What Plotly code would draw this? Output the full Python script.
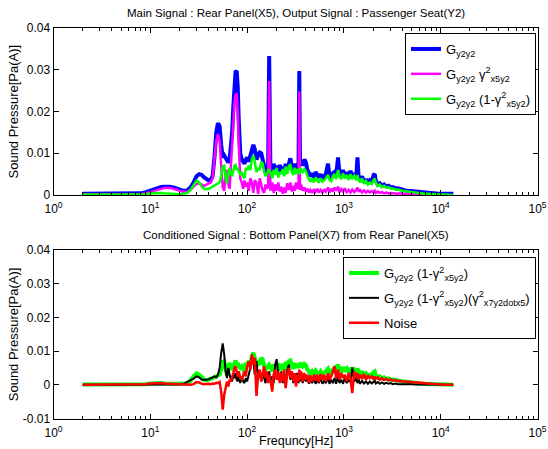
import plotly.graph_objects as go

# ---------------- data ----------------
freq = [
    2, 3, 4, 5, 6, 7, 8, 9, 10, 11,
    12, 13, 14, 16, 18, 20, 22, 24, 26, 28,
    30, 32, 34, 36, 38, 40, 42, 44, 46, 48,
    50, 52, 54, 56, 58, 60, 62, 64, 66, 68,
    70, 72, 74, 76, 78, 80, 82, 85, 88, 91,
    94, 97, 100, 104, 108, 112, 116, 120, 125, 130,
    135, 140, 145, 150, 155, 160, 165, 169, 174, 182,
    188, 195, 202, 210, 218, 226, 234, 242, 250, 260,
    270, 280, 290, 300, 310, 320, 330, 340, 346, 352,
    362, 375, 390, 405, 420, 435, 450, 470, 490, 510,
    530, 550, 575, 600, 625, 650, 685, 710, 740, 770,
    800, 830, 870, 900, 940, 980, 1020, 1070, 1120, 1170,
    1220, 1280, 1340, 1380, 1420, 1470, 1540, 1610, 1690, 1770,
    1850, 1940, 2030, 2080, 2130, 2240, 2350, 2470, 2600, 2750,
    2900, 3050, 3200, 3400, 3600, 3800, 4000, 4300, 4600, 5000,
    5400, 5800, 6300, 6800, 7400, 8000, 8700, 9500, 10400, 11400,
    12500, 13500,
]

g_y2y2 = [
    0.0003, 0.0003, 0.0003, 0.0003, 0.0003, 0.0003, 0.0004, 0.0007, 0.0011, 0.0015,
    0.0017, 0.0019, 0.0020, 0.0020, 0.0017, 0.0013, 0.0010, 0.0011, 0.0018, 0.0030,
    0.0045, 0.0050, 0.0048, 0.0042, 0.0037, 0.0035, 0.0036, 0.0045, 0.0090, 0.0150,
    0.0172, 0.0165, 0.0120, 0.0090, 0.0095, 0.0088, 0.0080, 0.0078, 0.0085, 0.0110,
    0.0150, 0.0210, 0.0265, 0.0295, 0.0297, 0.0260, 0.0180, 0.0100, 0.0085, 0.0080,
    0.0075, 0.0085, 0.0090, 0.0080, 0.0095, 0.0115, 0.0120, 0.0110, 0.0085, 0.0095,
    0.0102, 0.0100, 0.0085, 0.0060, 0.0055, 0.0060, 0.0070, 0.0333, 0.0065, 0.0050,
    0.0075, 0.0060, 0.0070, 0.0055, 0.0072, 0.0058, 0.0068, 0.0052, 0.0075, 0.0060,
    0.0080, 0.0088, 0.0065, 0.0058, 0.0075, 0.0062, 0.0070, 0.0068, 0.0297, 0.0075,
    0.0082, 0.0070, 0.0085, 0.0078, 0.0060, 0.0050, 0.0045, 0.0052, 0.0040, 0.0055,
    0.0048, 0.0042, 0.0050, 0.0038, 0.0045, 0.0050, 0.0075, 0.0045, 0.0040, 0.0052,
    0.0055, 0.0045, 0.0090, 0.0050, 0.0042, 0.0060, 0.0045, 0.0055, 0.0040, 0.0058,
    0.0045, 0.0052, 0.0040, 0.0090, 0.0042, 0.0035, 0.0045, 0.0030, 0.0038, 0.0028,
    0.0035, 0.0030, 0.0048, 0.0050, 0.0035, 0.0025, 0.0028, 0.0022, 0.0025, 0.0020,
    0.0022, 0.0018, 0.0019, 0.0016, 0.0016, 0.0014, 0.0013, 0.0011, 0.0010, 0.0009,
    0.0008, 0.0007, 0.0006, 0.0005, 0.0004, 0.0004, 0.0003, 0.0003, 0.0003, 0.0003,
    0.0003, 0.0003,
]

g_coh = [
    0.0001, 0.0001, 0.0001, 0.0001, 0.0001, 0.0001, 0.0002, 0.0004, 0.0007, 0.0011,
    0.0014, 0.0016, 0.0017, 0.0017, 0.0014, 0.0010, 0.0008, 0.0008, 0.0012, 0.0020,
    0.0026, 0.0028, 0.0025, 0.0022, 0.0025, 0.0028, 0.0030, 0.0040, 0.0080, 0.0130,
    0.0146, 0.0130, 0.0070, 0.0020, 0.0010, 0.0050, 0.0060, 0.0025, 0.0015, 0.0060,
    0.0110, 0.0170, 0.0220, 0.0240, 0.0241, 0.0200, 0.0120, 0.0040, 0.0030, 0.0015,
    0.0035, 0.0020, 0.0030, 0.0010, 0.0040, 0.0030, 0.0005, 0.0035, 0.0030, 0.0002,
    0.0040, 0.0020, 0.0010, 0.0005, 0.0025, 0.0015, 0.0020, 0.0273, 0.0010, 0.0030,
    0.0005, 0.0025, 0.0010, 0.0030, 0.0008, 0.0020, 0.0003, 0.0018, 0.0005, 0.0028,
    0.0012, 0.0030, 0.0008, 0.0022, 0.0010, 0.0030, 0.0015, 0.0020, 0.0248, 0.0012,
    0.0025, 0.0010, 0.0018, 0.0008, 0.0015, 0.0006, 0.0012, 0.0005, 0.0014, 0.0008,
    0.0015, 0.0006, 0.0012, 0.0005, 0.0014, 0.0008, 0.0018, 0.0006, 0.0015, 0.0008,
    0.0018, 0.0010, 0.0020, 0.0006, 0.0014, 0.0008, 0.0016, 0.0007, 0.0012, 0.0006,
    0.0013, 0.0007, 0.0012, 0.0018, 0.0008, 0.0012, 0.0006, 0.0011, 0.0006, 0.0010,
    0.0006, 0.0009, 0.0007, 0.0010, 0.0005, 0.0008, 0.0005, 0.0007, 0.0004, 0.0006,
    0.0004, 0.0005, 0.0004, 0.0004, 0.0003, 0.0004, 0.0003, 0.0003, 0.0002, 0.0003,
    0.0002, 0.0002, 0.0002, 0.0002, 0.0001, 0.0001, None, None, None, None,
    None, None,
]

g_incoh = [
    0.0001, 0.0001, 0.0001, 0.0001, 0.0001, 0.0001, 0.0001, 0.0002, 0.0004, 0.0005,
    0.0005, 0.0005, 0.0004, 0.0003, 0.0002, 0.0002, 0.0003, 0.0005, 0.0012, 0.0025,
    0.0034, 0.0030, 0.0020, 0.0015, 0.0014, 0.0015, 0.0018, 0.0020, 0.0022, 0.0025,
    0.0028, 0.0030, 0.0045, 0.0068, 0.0070, 0.0040, 0.0028, 0.0055, 0.0065, 0.0050,
    0.0045, 0.0055, 0.0070, 0.0072, 0.0060, 0.0065, 0.0055, 0.0050, 0.0055, 0.0045,
    0.0040, 0.0065, 0.0060, 0.0070, 0.0060, 0.0085, 0.0095, 0.0080, 0.0055, 0.0065,
    0.0060, 0.0080, 0.0075, 0.0055, 0.0045, 0.0050, 0.0060, 0.0060, 0.0055, 0.0040,
    0.0060, 0.0048, 0.0065, 0.0042, 0.0055, 0.0050, 0.0062, 0.0045, 0.0068, 0.0050,
    0.0070, 0.0072, 0.0055, 0.0048, 0.0065, 0.0050, 0.0062, 0.0055, 0.0050, 0.0065,
    0.0060, 0.0055, 0.0062, 0.0058, 0.0045, 0.0038, 0.0032, 0.0040, 0.0030, 0.0042,
    0.0035, 0.0030, 0.0040, 0.0032, 0.0035, 0.0042, 0.0048, 0.0036, 0.0033, 0.0045,
    0.0050, 0.0038, 0.0060, 0.0045, 0.0038, 0.0052, 0.0040, 0.0048, 0.0036, 0.0050,
    0.0040, 0.0046, 0.0035, 0.0048, 0.0036, 0.0030, 0.0040, 0.0027, 0.0034, 0.0025,
    0.0030, 0.0026, 0.0038, 0.0040, 0.0030, 0.0022, 0.0025, 0.0019, 0.0022, 0.0017,
    0.0019, 0.0015, 0.0016, 0.0013, 0.0013, 0.0011, 0.0010, 0.0009, 0.0008, 0.0007,
    0.0006, 0.0005, 0.0004, 0.0003, 0.0003, 0.0002, 0.0002, 0.0001, 0.0001, 0.0001,
    0.0000, 0.0000,
]

g_cond = [
    0, 0, 0, 0, 0, 0, 0, 0, 0, 0,
    0, 0, 0, 0, 0, 0.0001, 0.0003, 0.0008, 0.0012, 0.0018,
    0.0025, 0.0022, 0.0015, 0.0014, 0.0015, 0.0016, 0.0018, 0.0022, 0.0025, 0.0022,
    0.0030, 0.0050, 0.0095, 0.0123, 0.0090, 0.0040, 0.0020, 0.0050, 0.0030, 0.0015,
    0.0010, 0.0030, 0.0020, 0.0035, 0.0015, 0.0010, 0.0030, 0.0005, 0.0025, 0.0010,
    0.0005, 0.0020, 0.0010, 0.0030, 0.0050, 0.0085, 0.0070, 0.0030, 0.0070, 0.0020,
    0.0040, 0.0010, 0.0035, 0.0020, 0.0005, 0.0030, 0.0015, 0.0040, 0.0010, 0.0025,
    0.0005, 0.0060, 0.0076, 0.0030, 0.0010, 0.0040, 0.0005, 0.0030, 0.0010, 0.0045,
    0.0060, 0.0015, 0.0040, 0.0005, 0.0030, 0.0010, 0.0035, 0.0005, 0.0025, 0.0010,
    0.0030, 0.0005, 0.0025, 0.0010, 0.0020, 0.0003, 0.0015, 0.0005, 0.0020, 0.0003,
    0.0015, 0.0005, 0.0018, 0.0003, 0.0012, 0.0005, 0.0020, 0.0003, 0.0015, 0.0005,
    0.0020, 0.0003, 0.0025, 0.0005, 0.0015, 0.0003, 0.0020, 0.0005, 0.0015, 0.0008,
    0.0052, 0.0010, 0.0020, 0.0005, 0.0015, 0.0003, 0.0012, 0.0004, 0.0010, 0.0003,
    0.0010, 0.0004, 0.0009, 0.0012, 0.0004, 0.0008, 0.0003, 0.0007, 0.0003, 0.0006,
    0.0003, 0.0005, 0.0002, 0.0004, 0.0002, 0.0003, 0.0002, 0.0002, 0.0001, 0.0002,
    0.0001, 0.0001, 0.0001, 0.0001, 0.0000, 0.0000, 0.0000, 0.0000, 0.0000, 0.0000,
    0.0000, 0.0000,
]

g_noise = [
    0, 0, 0, 0, 0, 0, 0.0001, 0.0002, 0.0004, 0.0005,
    0.0005, 0.0005, 0.0004, 0.0003, 0.0001, 0, 0, 0, 0, 0.0002,
    0.0008, 0.0007, 0.0003, 0.0002, 0.0003, 0.0003, 0.0002, 0.0004, 0.0003, 0.0006,
    0.0005, 0.0008, -0.0020, -0.0074, -0.0030, -0.0010, 0.0010, -0.0005, 0.0015, 0.0010,
    0.0020, 0.0035, 0.0050, 0.0055, 0.0040, 0.0025, 0.0040, 0.0020, 0.0015, 0.0030,
    0.0040, 0.0025, 0.0055, 0.0070, 0.0045, 0.0090, 0.0060, 0.0080, -0.0033, 0.0030,
    0.0045, 0.0010, 0.0035, 0.0055, 0.0020, 0.0040, 0.0005, 0.0030, 0.0015, -0.0020,
    0.0030, 0.0045, 0.0015, 0.0040, 0.0005, 0.0035, 0.0010, 0.0045, -0.0010, 0.0030,
    0.0050, 0.0020, 0.0040, 0.0010, 0.0035, -0.0005, 0.0030, 0.0010, 0.0045, 0.0015,
    0.0040, 0.0010, 0.0035, 0.0015, 0.0030, 0.0005, 0.0028, 0.0010, 0.0030, 0.0012,
    0.0030, 0.0008, 0.0032, 0.0015, 0.0030, 0.0010, 0.0035, 0.0015, 0.0025, 0.0040,
    0.0055, 0.0020, 0.0045, 0.0015, 0.0035, 0.0020, 0.0030, 0.0010, 0.0035, 0.0020,
    -0.0025, 0.0040, 0.0020, 0.0035, 0.0015, 0.0030, 0.0018, 0.0032, 0.0015, 0.0028,
    0.0020, 0.0025, 0.0015, 0.0025, 0.0018, 0.0022, 0.0015, 0.0020, 0.0014, 0.0018,
    0.0013, 0.0016, 0.0012, 0.0014, 0.0011, 0.0012, 0.0010, 0.0010, 0.0009, 0.0008,
    0.0007, 0.0006, 0.0005, 0.0004, 0.0004, 0.0003, 0.0002, 0.0001, 0.0001, 0.0000,
    0.0000, 0.0000,
]

x_tickvals = [1, 10, 100, 1000, 10000, 100000]
x_ticktext = ["10<sup>0</sup>", "10<sup>1</sup>", "10<sup>2</sup>",
              "10<sup>3</sup>", "10<sup>4</sup>", "10<sup>5</sup>"]

y_top_tickvals = [0, 0.01, 0.02, 0.03, 0.04]
y_top_ticktext = ["0", "0.01", "0.02", "0.03", "0.04"]
y_bot_tickvals = [-0.01, 0, 0.01, 0.02, 0.03, 0.04]
y_bot_ticktext = ["-0.01", "0", "0.01", "0.02", "0.03", "0.04"]

top_names = [
    "G<sub>y2y2</sub>",
    "G<sub>y2y2</sub> γ<sup>2</sup><sub>x5y2</sub>",
    "G<sub>y2y2</sub> (1-γ<sup>2</sup><sub>x5y2</sub>)",
]
bot_names = [
    "G<sub>y2y2</sub> (1-γ<sup>2</sup><sub>x5y2</sub>)",
    "G<sub>y2y2</sub> (1-γ<sup>2</sup><sub>x5y2</sub>)(γ<sup>2</sup><sub>x7y2dotx5</sub>)",
    "Noise",
]

# ---------------- figure ----------------
W, H = 548, 449
FONT = "Arial, Liberation Sans, sans-serif"

fig = go.Figure()

fig.add_trace(go.Scatter(x=freq, y=g_y2y2, mode="lines", name=top_names[0],
                         line=dict(color="#0000FF", width=4), xaxis="x", yaxis="y",
                         legend="legend", legendgroup="t1"))
fig.add_trace(go.Scatter(x=freq, y=g_coh, mode="lines", name=top_names[1],
                         line=dict(color="#FF00FF", width=2.5), xaxis="x", yaxis="y",
                         legend="legend", legendgroup="t2"))
fig.add_trace(go.Scatter(x=freq, y=g_incoh, mode="lines", name=top_names[2],
                         line=dict(color="#00FF00", width=2.5), xaxis="x", yaxis="y",
                         legend="legend", legendgroup="t3"))

fig.add_trace(go.Scatter(x=freq, y=g_incoh, mode="lines", name=bot_names[0],
                         line=dict(color="#00FF00", width=4), xaxis="x2", yaxis="y2",
                         legend="legend2", legendgroup="b1"))
fig.add_trace(go.Scatter(x=freq, y=g_cond, mode="lines", name=bot_names[1],
                         line=dict(color="#000000", width=2), xaxis="x2", yaxis="y2",
                         legend="legend2", legendgroup="b2"))
fig.add_trace(go.Scatter(x=freq, y=g_noise, mode="lines", name=bot_names[2],
                         line=dict(color="#FF0000", width=2.5), xaxis="x2", yaxis="y2",
                         legend="legend2", legendgroup="b3"))

def px_x(p):
    return p / W

def px_y(p):
    return (H - p) / H

xdom = [px_x(53.5), px_x(537.5)]
top_dom = [px_y(195), px_y(28)]
bot_dom = [px_y(418.5), px_y(250)]

axis_common = dict(
    showline=True, linecolor="black", linewidth=1, mirror="ticks",
    ticks="inside", ticklen=5, tickcolor="black", showgrid=False, zeroline=False,
    tickfont=dict(family=FONT, size=12, color="black"), automargin=False,
)

xaxis_common = dict(
    type="log", range=[0, 5], domain=xdom,
    tickvals=x_tickvals, ticktext=x_ticktext, ticklabelstandoff=3,
    minor=dict(ticks="inside", ticklen=3, tickcolor="black", dtick="D1", showgrid=False),
    **axis_common,
)

legend_common = dict(
    xanchor="right", yanchor="top",
    bordercolor="black", borderwidth=1, bgcolor="white",
    font=dict(family=FONT, size=13, color="black"),
    tracegroupgap=5, itemwidth=30,
)

fig.update_layout(
    width=W, height=H,
    margin=dict(l=0, r=0, t=0, b=0),
    paper_bgcolor="white", plot_bgcolor="white",
    font=dict(family=FONT, size=12, color="black"),
    xaxis=dict(anchor="y", **xaxis_common),
    yaxis=dict(anchor="x", domain=top_dom, range=[0, 0.04],
               tickvals=y_top_tickvals, ticktext=y_top_ticktext, **axis_common),
    xaxis2=dict(anchor="y2", **xaxis_common),
    yaxis2=dict(anchor="x2", domain=bot_dom, range=[-0.01, 0.04],
                tickvals=y_bot_tickvals, ticktext=y_bot_ticktext, **axis_common),
    legend=dict(x=px_x(536), y=px_y(33), **legend_common),
    legend2=dict(x=px_x(536), y=px_y(257), **legend_common),
    showlegend=True,
)

annotations = [
    dict(text="Main Signal : Rear Panel(X5), Output Signal : Passenger Seat(Y2)",
         x=(xdom[0] + xdom[1]) / 2, y=px_y(13), xref="paper", yref="paper",
         xanchor="center", yanchor="middle", showarrow=False,
         font=dict(family=FONT, size=11.5, color="black")),
    dict(text="Conditioned Signal : Bottom Panel(X7) from Rear Panel(X5)",
         x=(xdom[0] + xdom[1]) / 2, y=px_y(235), xref="paper", yref="paper",
         xanchor="center", yanchor="middle", showarrow=False,
         font=dict(family=FONT, size=11.5, color="black")),
    dict(text="Frequncy[Hz]",
         x=(xdom[0] + xdom[1]) / 2, y=px_y(441), xref="paper", yref="paper",
         xanchor="center", yanchor="middle", showarrow=False,
         font=dict(family=FONT, size=12.5, color="black")),
    dict(text="Sound Pressure[Pa(A)]", textangle=-90,
         x=px_x(13), y=(top_dom[0] + top_dom[1]) / 2, xref="paper", yref="paper",
         xanchor="center", yanchor="middle", showarrow=False,
         font=dict(family=FONT, size=13, color="black")),
    dict(text="Sound Pressure[Pa(A)]", textangle=-90,
         x=px_x(13), y=(bot_dom[0] + bot_dom[1]) / 2, xref="paper", yref="paper",
         xanchor="center", yanchor="middle", showarrow=False,
         font=dict(family=FONT, size=13, color="black")),
]
fig.update_layout(annotations=annotations)

fig.write_html("out.html")
